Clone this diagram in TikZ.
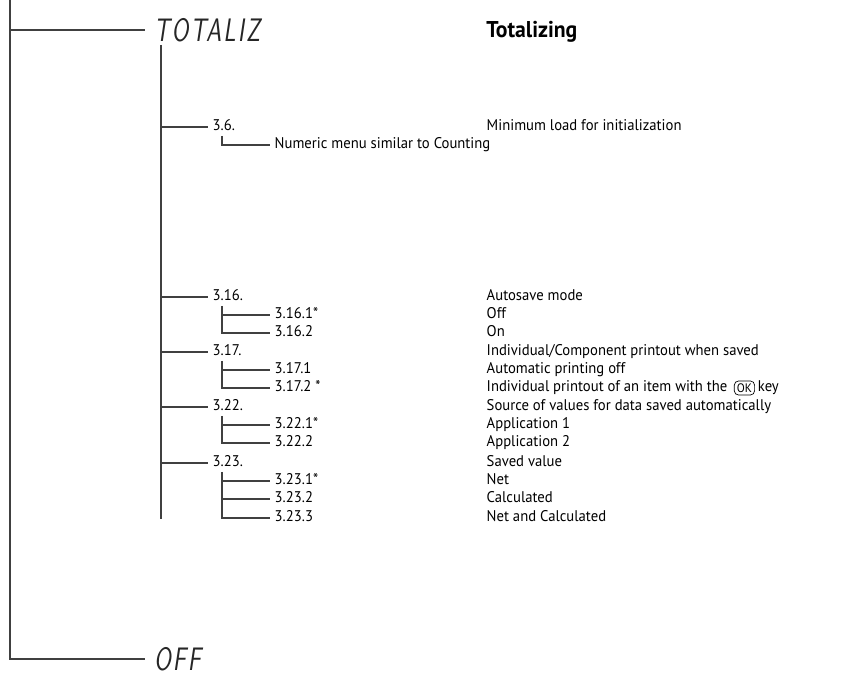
\documentclass[tikz,border=0pt]{standalone}
\usepackage{fontspec}
\setmainfont[FakeStretch=0.95]{PT Sans}
\newfontfamily\segfont[FakeSlant=0.15,FakeStretch=0.75,LetterSpace=6]{Latin Modern Sans}
\usepackage{tikz}
\usetikzlibrary{positioning, calc}

\begin{document}
\begin{tikzpicture}[
        x=0.02cm, y=-0.02cm,
        entry/.style={anchor=west, inner xsep=2.5pt, inner ysep=0pt, text height=6.5pt, text depth=2pt, font=\fontsize{8.8}{10}\selectfont},
        segtext/.style={anchor=west, inner xsep=5pt, inner ysep=0pt, text=black!85, font=\segfont\fontsize{18.5}{18.5}\selectfont},
        title/.style={anchor=west, inner sep=0pt, font=\bfseries\fontsize{13}{14}\selectfont},
        okkey/.style={draw, rounded corners=2.5pt, inner xsep=1.5pt, inner ysep=1.5pt, font=\fontsize{7}{7}\selectfont},
        branch/.style={draw=black!75, line width=0.6pt}
    ]
        \useasboundingbox (0,0) rectangle (850,675);

        % main menu level
        \coordinate (main top) at (10,0);
        \node[segtext] (totaliz) at (145,30) {TOTALIZ};
        \node[segtext] (off) at (145,659) {OFF};
        \node[title] (totalizing) at (486,32) {Totalizing};
        \draw[branch] (main top) |- (off.west);
        \draw[branch] (totaliz.west -| main top) -- (totaliz.west);

        % sub menu trunk
        \coordinate (sub top) at (161,45);
        \coordinate (sub end) at (161,519);
        \draw[branch] (sub top) -- (sub end);

        % 3.6.
        \node[entry] (m36) at (208,127) {3.6.};
        \node[entry] (d36) at (482,127) {Minimum load for initialization};
        \node[entry] (m36x) at (270,145) {Numeric menu similar to Counting};

        % 3.16.
        \node[entry] (m316) at (208,297) {3.16.};
        \node[entry] (m3161) at (270,315) {3.16.1*};
        \node[entry] (m3162) at (270,333) {3.16.2};
        \node[entry] (d316) at (482,297) {Autosave mode};
        \node[entry] (d3161) at (482,315) {Off};
        \node[entry] (d3162) at (482,333) {On};

        % 3.17.
        \node[entry] (m317) at (208,352) {3.17.};
        \node[entry] (m3171) at (270,370) {3.17.1};
        \node[entry] (m3172) at (270,388) {3.17.2 *};
        \node[entry] (d317) at (482,352) {Individual/Component printout when saved};
        \node[entry] (d3171) at (482,370) {Automatic printing off};
        \node[entry] (d3172) at (482,388) {Individual printout of an item with the};
        \node[okkey, right=1pt of d3172] (ok) {OK};
        \node[entry, right=-1pt of ok] (okword) {key};

        % 3.22.
        \node[entry] (m322) at (208,407) {3.22.};
        \node[entry] (m3221) at (270,425) {3.22.1*};
        \node[entry] (m3222) at (270,443) {3.22.2};
        \node[entry] (d322) at (482,407) {Source of values for data saved automatically};
        \node[entry] (d3221) at (482,425) {Application 1};
        \node[entry] (d3222) at (482,443) {Application 2};

        % 3.23.
        \node[entry] (m323) at (208,463) {3.23.};
        \node[entry] (m3231) at (270,481) {3.23.1*};
        \node[entry] (m3232) at (270,499) {3.23.2};
        \node[entry] (m3233) at (270,518) {3.23.3};
        \node[entry] (d323) at (482,463) {Saved value};
        \node[entry] (d3231) at (482,481) {Net};
        \node[entry] (d3232) at (482,499) {Calculated};
        \node[entry] (d3233) at (482,518) {Net and Calculated};

        % branches from the trunk
        \foreach \m in {m36, m316, m317, m322, m323}
            \draw[branch] (\m.west -| sub top) -- (\m.west);

        % sub branches
        \coordinate (s36) at ($(m36.west)+(14,9)$);
        \draw[branch] (s36) |- (m36x.west);
        \foreach \m/\last/\kids in {m316/m3162/{m3161}, m317/m3172/{m3171}, m322/m3222/{m3221}, m323/m3233/{m3231,m3232}} {
            \coordinate (s) at ($(\m.west)+(14,9)$);
            \draw[branch] (s) |- (\last.west);
            \foreach \k in \kids
                \draw[branch] (\k.west -| s) -- (\k.west);
        }
    \end{tikzpicture}
\end{document}
